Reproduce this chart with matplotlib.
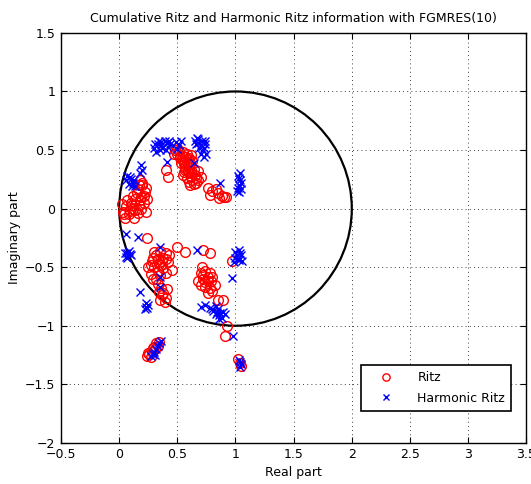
import matplotlib.pyplot as plt
from matplotlib.patches import Circle

plt.rcParams["font.family"] = ["DejaVu Sans"]
plt.rcParams["font.size"] = 9

# Ritz values (real, imag)
ritz_re = [0.48, 0.50, 0.52, 0.55, 0.57, 0.54, 0.58, 0.60, 0.62, 0.56, 0.60, 0.50, 0.53,
           0.47, 0.51, 0.55, 0.58, 0.59, 0.56, 0.61, 0.52, 0.57, 0.63,
           0.57, 0.60, 0.62, 0.65, 0.68, 0.63, 0.58, 0.66, 0.70, 0.61, 0.55, 0.64,
           0.59, 0.62, 0.66, 0.60, 0.64, 0.68, 0.56, 0.62,
           0.40, 0.42,
           0.76, 0.80, 0.83, 0.85, 0.88, 0.90, 0.92, 0.86, 0.78,
           0.18, 0.20, 0.16, 0.22, 0.19, 0.14, 0.10, 0.06, 0.03, 0.08, 0.12, 0.17, 0.21,
           0.24, 0.02, 0.05, 0.13, 0.23, 0.16, 0.20, 0.23,
           0.15, 0.18, 0.11, 0.07, 0.14, 0.09, 0.19, 0.04, 0.21, 0.17, 0.12,
           0.24,
           0.30, 0.35, 0.40, 0.43, 0.38, 0.33, 0.28, 0.25, 0.30, 0.36, 0.42, 0.45, 0.27,
           0.32, 0.40,
           0.32, 0.37, 0.29, 0.34, 0.40, 0.27, 0.33, 0.38, 0.29, 0.35,
           0.33, 0.36, 0.38, 0.40, 0.35, 0.39, 0.37, 0.34, 0.41,
           0.50, 0.57, 0.72, 0.78, 0.97,
           0.70, 0.74, 0.78, 0.72, 0.76, 0.80, 0.68, 0.74, 0.78, 0.82, 0.76,
           0.72, 0.76, 0.70, 0.79, 0.74, 0.71, 0.80,
           0.85, 0.89, 0.93, 0.91,
           0.24, 0.26, 0.28, 0.30, 0.32, 0.34, 0.27, 0.31, 0.29, 0.25, 0.33,
           1.02, 1.04, 1.05]
ritz_im = [0.50, 0.47, 0.45, 0.48, 0.44, 0.42, 0.40, 0.43, 0.46, 0.38, 0.36, 0.52, 0.39,
           0.47, 0.49, 0.45, 0.47, 0.42, 0.40, 0.39, 0.43, 0.35, 0.41,
           0.33, 0.30, 0.27, 0.29, 0.32, 0.24, 0.26, 0.22, 0.27, 0.20, 0.29, 0.34,
           0.32, 0.30, 0.26, 0.23, 0.21, 0.24, 0.31, 0.33,
           0.33, 0.27,
           0.18, 0.15, 0.17, 0.13, 0.11, 0.10, 0.10, 0.09, 0.12,
           0.24, 0.20, 0.17, 0.14, 0.10, 0.08, 0.05, 0.02, -0.03, -0.05, 0.00, 0.03, 0.05,
           0.08, 0.04, -0.08, -0.08, -0.03, -0.04, 0.22, 0.18,
           0.13, 0.07, 0.03, 0.07, -0.01, -0.02, 0.00, -0.05, 0.11, 0.20, 0.11,
           -0.25,
           -0.37, -0.36, -0.38, -0.40, -0.42, -0.43, -0.45, -0.50, -0.50, -0.48, -0.46, -0.52, -0.56,
           -0.60, -0.55,
           -0.40, -0.45, -0.42, -0.47, -0.43, -0.48, -0.53, -0.51, -0.60, -0.57,
           -0.64, -0.68, -0.72, -0.76, -0.78, -0.80, -0.74, -0.71, -0.69,
           -0.33, -0.37, -0.35, -0.38, -0.45,
           -0.55, -0.53, -0.55, -0.60, -0.62, -0.58, -0.62, -0.67, -0.68, -0.65, -0.72,
           -0.57, -0.58, -0.65, -0.62, -0.63, -0.50, -0.70,
           -0.78, -0.78, -1.00, -1.09,
           -1.26, -1.24, -1.22, -1.18, -1.15, -1.14, -1.27, -1.20, -1.19, -1.23, -1.17,
           -1.28, -1.32, -1.34]

# Harmonic Ritz values (real, imag)
harm_re = [0.30, 0.33, 0.36, 0.38, 0.41, 0.43, 0.35, 0.40, 0.32,
           0.34, 0.37, 0.31, 0.39, 0.42, 0.36, 0.44,
           0.49, 0.51, 0.53, 0.50,
           0.65, 0.68, 0.71, 0.74, 0.69, 0.72, 0.75, 0.73, 0.67,
           0.70, 0.66, 0.73, 0.70, 0.74, 0.68,
           0.19, 0.20, 0.18,
           0.07, 0.10, 0.12, 0.08, 0.14, 0.06, 0.09, 0.11, 0.13,
           1.02, 1.04, 1.03, 1.05, 1.01, 1.03, 1.03, 1.05, 1.02, 1.04,
           0.41, 0.64, 0.87,
           0.06, 0.08, 0.05, 0.10, 0.07, 0.07, 0.09, 0.06,
           0.16, 0.35, 0.35,
           0.18, 0.23, 0.25, 0.22, 0.35, 0.24, 0.23,
           0.67,
           0.70, 0.74, 0.78, 0.81, 0.84, 0.86, 0.88, 0.83, 0.91,
           0.80, 0.85, 0.87, 0.83, 0.89, 0.86,
           0.98,
           1.00, 1.03, 1.05, 1.02, 0.99, 1.06, 1.01, 1.04, 1.03, 1.00,
           0.97,
           0.27, 0.30, 0.33, 0.36, 0.31, 0.29, 0.32, 0.34,
           1.03, 1.05, 1.04, 1.04]
harm_im = [0.52, 0.55, 0.57, 0.53, 0.56, 0.58, 0.50, 0.50, 0.48,
           0.58, 0.52, 0.55, 0.58, 0.53, 0.54, 0.55,
           0.57, 0.54, 0.58, 0.51,
           0.58, 0.56, 0.58, 0.55, 0.52, 0.50, 0.47, 0.44, 0.60,
           0.54, 0.55, 0.52, 0.47, 0.58, 0.59,
           0.37, 0.33, 0.30,
           0.28, 0.25, 0.22, 0.21, 0.19, 0.24, 0.27, 0.19, 0.24,
           0.28, 0.24, 0.20, 0.17, 0.15, 0.14, 0.26, 0.22, 0.18, 0.30,
           0.40, 0.39, 0.22,
           -0.22, -0.36, -0.38, -0.40, -0.42, -0.38, -0.39, -0.41,
           -0.24, -0.33, -0.58,
           -0.71, -0.84, -0.82, -0.86, -0.67, -0.85, -0.81,
           -0.35,
           -0.84, -0.82, -0.85, -0.87, -0.88, -0.91, -0.93, -0.83, -0.90,
           -0.86, -0.86, -0.89, -0.90, -0.88, -0.94,
           -1.09,
           -0.37, -0.35, -0.40, -0.43, -0.46, -0.45, -0.40, -0.38, -0.44, -0.42,
           -0.59,
           -1.26, -1.22, -1.17, -1.13, -1.25, -1.24, -1.20, -1.15,
           -1.29, -1.33, -1.35, -1.31]

fig = plt.figure(figsize=(5.31, 4.84), dpi=100)
ax = fig.add_axes([0.115, 0.085, 0.876, 0.847])

ax.plot(ritz_re, ritz_im, "o", color="r", mfc="none", ms=7, mew=1.0, label="Ritz")
ax.plot(harm_re, harm_im, "x", color="b", ms=6, mew=1.0, label="Harmonic Ritz")
ax.add_patch(Circle((1, 0), 1, fill=False, color="k", lw=1.6))

ax.set_xlim(-0.5, 3.5)
ax.set_ylim(-2, 1.5)
ax.set_xticks([-0.5, 0, 0.5, 1, 1.5, 2, 2.5, 3, 3.5])
ax.set_xticklabels(["\u22120.5", "0", "0.5", "1", "1.5", "2", "2.5", "3", "3.5"])
ax.set_yticks([-2, -1.5, -1, -0.5, 0, 0.5, 1, 1.5])
ax.set_yticklabels(["\u22122", "\u22121.5", "\u22121", "\u22120.5", "0", "0.5", "1", "1.5"])
ax.tick_params(direction="in", top=True, right=True, length=4, pad=4)
ax.grid(True, linestyle=(0, (1, 4)), color="k", linewidth=0.6)
for s in ax.spines.values():
    s.set_linewidth(1.0)

ax.set_title("Cumulative Ritz and Harmonic Ritz information with FGMRES(10)", fontsize=9, pad=8)
ax.set_xlabel("Real part", labelpad=3)
ax.set_ylabel("Imaginary part", labelpad=3)
leg = ax.legend(loc="lower right", fancybox=False, edgecolor="k", framealpha=1,
                bbox_to_anchor=(0.968, 0.078), borderaxespad=0, markerscale=0.75,
                handlelength=3.0, handletextpad=1.0, borderpad=0.5, labelspacing=0.6)
leg.get_frame().set_linewidth(1.2)

fig.savefig("out.png", dpi=100)
